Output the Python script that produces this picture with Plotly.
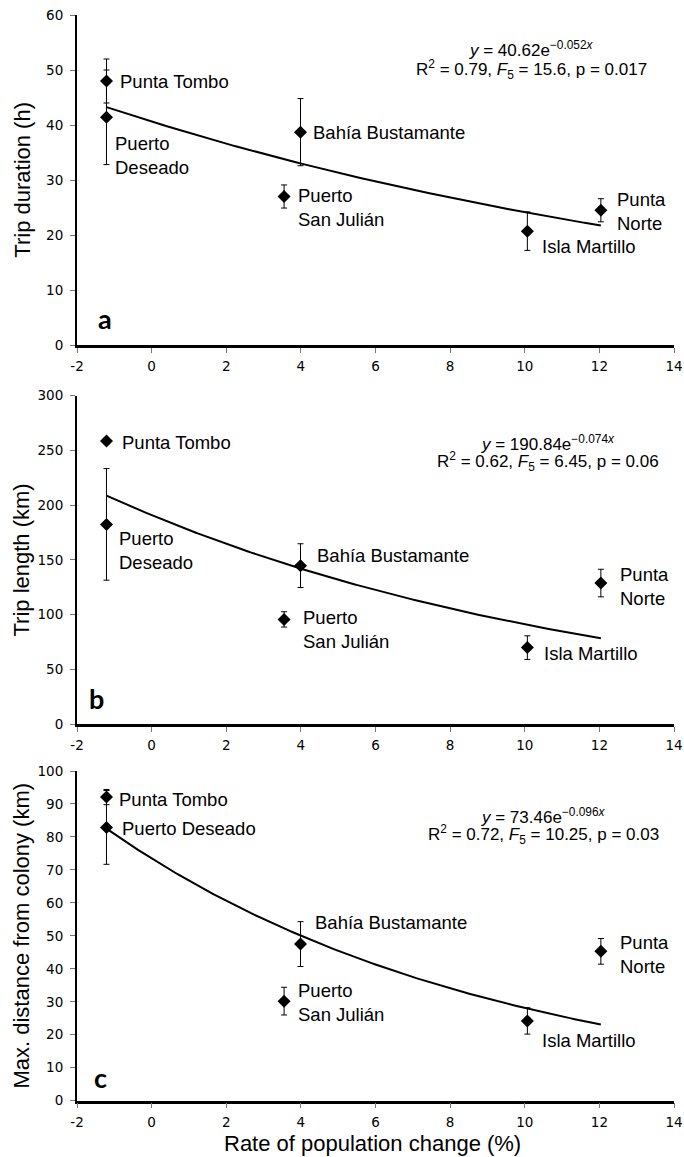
import numpy as np
import plotly.graph_objects as go

# ---------------- data ----------------
sites = ["Punta Tombo", "Puerto Deseado", "Bahía Bustamante",
         "Puerto San Julián", "Isla Martillo", "Punta Norte"]
pop_change = [-1.21, -1.21, 3.99, 3.55, 10.07, 12.04]

trip_duration = [48.0, 41.4, 38.7, 27.0, 20.7, 24.5]
trip_duration_err = [4.0, 8.6, 6.1, 2.1, 3.5, 2.1]

trip_length = [258.6, 182.4, 144.7, 95.6, 69.8, 128.8]
trip_length_err = [2.5, 51.0, 20.0, 7.0, 10.8, 12.6]

max_distance = [92.1, 82.9, 47.5, 30.2, 24.2, 45.3]
max_distance_err = [2.3, 11.2, 6.8, 4.2, 4.0, 3.9]

# exponential fits y = a * exp(b x) as printed on the chart
fit_a = [40.62, 190.84, 73.46]
fit_b = [-0.052, -0.074, -0.096]
fit_eq = ["<i>y</i> = 40.62e<sup>−0.052<i>x</i></sup>",
          "<i>y</i> = 190.84e<sup>−0.074<i>x</i></sup>",
          "<i>y</i> = 73.46e<sup>−0.096<i>x</i></sup>"]
fit_stats = ["R<sup>2</sup> = 0.79, <i>F</i><sub>5</sub> = 15.6, p = 0.017",
             "R<sup>2</sup> = 0.62, <i>F</i><sub>5</sub> = 6.45, p = 0.06",
             "R<sup>2</sup> = 0.72, <i>F</i><sub>5</sub> = 10.25, p = 0.03"]

y_titles = ["Trip duration (h)", "Trip length (km)", "Max. distance from colony (km)"]
x_title = "Rate of population change (%)"
panel_letters = ["a", "b", "c"]
x_ticks = [-2, 0, 2, 4, 6, 8, 10, 12, 14]
y_ranges = [[0, 60], [0, 300], [0, 100]]
y_dticks = [10, 50, 10]

site_labels = [
    ["Punta Tombo", "Puerto<br>Deseado", "Bahía Bustamante",
     "Puerto<br>San Julián", "Isla Martillo", "Punta<br>Norte"],
    ["Punta Tombo", "Puerto<br>Deseado", "Bahía Bustamante",
     "Puerto<br>San Julián", "Isla Martillo", "Punta<br>Norte"],
    ["Punta Tombo", "Puerto Deseado", "Bahía Bustamante",
     "Puerto<br>San Julián", "Isla Martillo", "Punta<br>Norte"],
]

# ---------------- layout / style ----------------
W, H = 684, 1157
x_px = (77, 674)
y_px = [(15, 345), (395.7, 724), (771, 1100.7)]   # (top, bottom) in page pixels

label_shift = [
    [(12, 0), (7, -38), (10, 0), (12, -11), (13, -15), (14, -1)],
    [(14, -1), (11, -26), (14, 10), (17, -10), (15, -6), (17, -3)],
    [(11, -2), (14, -1), (12, 22), (12, -1), (13, -20), (17, -3)],
]
eq_pos = [(10.17, 53.8, 50.1), (10.63, 257.2, 239.6), (10.5, 86.3, 80.8)]
letter_pos = [(0.047, 0.081), (0.033, 0.078), (0.039, 0.07)]

LABEL_FONT = dict(family="Liberation Sans, Arial, sans-serif", size=18.5, color="black")
EQ_FONT = dict(family="Liberation Sans, Arial, sans-serif", size=17, color="black")
TICK_FONT = dict(family="DejaVu Sans, sans-serif", size=13.5, color="black")
TITLE_FONT = dict(family="Liberation Sans, Arial, sans-serif", size=22, color="black")

series = [(trip_duration, trip_duration_err),
          (trip_length, trip_length_err),
          (max_distance, max_distance_err)]

fig = go.Figure()
annotations = []
layout_axes = {}

for i in range(3):
    xa = "x" if i == 0 else f"x{i+1}"
    ya = "y" if i == 0 else f"y{i+1}"
    vals, errs = series[i]

    # fitted curve
    xs = np.linspace(min(pop_change), max(pop_change), 200)
    ys = fit_a[i] * np.exp(fit_b[i] * xs)
    fig.add_trace(go.Scatter(x=xs, y=ys, mode="lines",
                             line=dict(color="black", width=2),
                             xaxis=xa, yaxis=ya, showlegend=False, hoverinfo="skip"))
    # points with error bars
    fig.add_trace(go.Scatter(x=pop_change, y=vals, mode="markers",
                             marker=dict(symbol="diamond", size=10, color="black"),
                             error_y=dict(type="data", array=errs, visible=True,
                                          color="black", thickness=1, width=3),
                             xaxis=xa, yaxis=ya, showlegend=False, text=sites))

    top, bot = y_px[i]
    layout_axes["xaxis" if i == 0 else f"xaxis{i+1}"] = dict(
        domain=[x_px[0] / W, x_px[1] / W], range=[-2, 14], anchor=ya,
        tickmode="array", tickvals=x_ticks, ticktext=[str(t) for t in x_ticks],
        showline=True, linecolor="black", linewidth=2.5, ticks="outside",
        ticklen=5, tickcolor="#777", tickwidth=1, showgrid=False, zeroline=False,
        tickfont=TICK_FONT, automargin=False, fixedrange=True,
        ticklabeloverflow="allow", ticklabelstandoff=2)
    layout_axes["yaxis" if i == 0 else f"yaxis{i+1}"] = dict(
        domain=[1 - bot / H, 1 - top / H], range=y_ranges[i], anchor=xa,
        dtick=y_dticks[i], tick0=0,
        showline=True, linecolor="black", linewidth=2, ticks="outside",
        ticklen=5, tickcolor="#777", tickwidth=1, showgrid=False, zeroline=False,
        tickfont=TICK_FONT, automargin=False, fixedrange=True,
        ticklabeloverflow="allow", ticklabelstandoff=4)

    # site labels
    for j in range(len(sites)):
        dx, dy = label_shift[i][j]
        annotations.append(dict(x=pop_change[j], y=vals[j], xref=xa, yref=ya,
                                text=site_labels[i][j], showarrow=False,
                                xanchor="left", yanchor="middle", align="left",
                                xshift=dx, yshift=dy, font=LABEL_FONT))
    # equation
    ex, ey1, ey2 = eq_pos[i]
    annotations.append(dict(x=ex, y=ey1, xref=xa, yref=ya, text=fit_eq[i],
                            showarrow=False, xanchor="center", yanchor="middle",
                            font=EQ_FONT, borderpad=0))
    annotations.append(dict(x=ex, y=ey2, xref=xa, yref=ya, text=fit_stats[i],
                            showarrow=False, xanchor="center", yanchor="middle",
                            font=EQ_FONT, borderpad=0))
    # panel letter
    lx, ly = letter_pos[i]
    annotations.append(dict(x=lx, y=ly, xref=f"{xa} domain", yref=f"{ya} domain",
                            text=f"<b>{panel_letters[i]}</b>", showarrow=False,
                            xanchor="center", yanchor="middle",
                            font=dict(family="Lato, sans-serif", size=27, color="black")))
    # y title
    annotations.append(dict(x=21.7 / W, y=1 - (top + bot) / 2 / H, xref="paper", yref="paper",
                            text=y_titles[i], textangle=-90, showarrow=False,
                            xanchor="center", yanchor="middle", font=TITLE_FONT))

annotations.append(dict(x=372 / W, y=1 - 1143 / H, xref="paper", yref="paper",
                        text=x_title, showarrow=False, xanchor="center", yanchor="middle",
                        font=TITLE_FONT))

fig.update_layout(width=W, height=H, margin=dict(l=0, r=0, t=0, b=0),
                  paper_bgcolor="white", plot_bgcolor="white",
                  annotations=annotations, **layout_axes)

fig.write_html("out.html", config={"displayModeBar": False},
               post_script="document.body.style.margin='0';document.body.style.overflow='hidden';")
